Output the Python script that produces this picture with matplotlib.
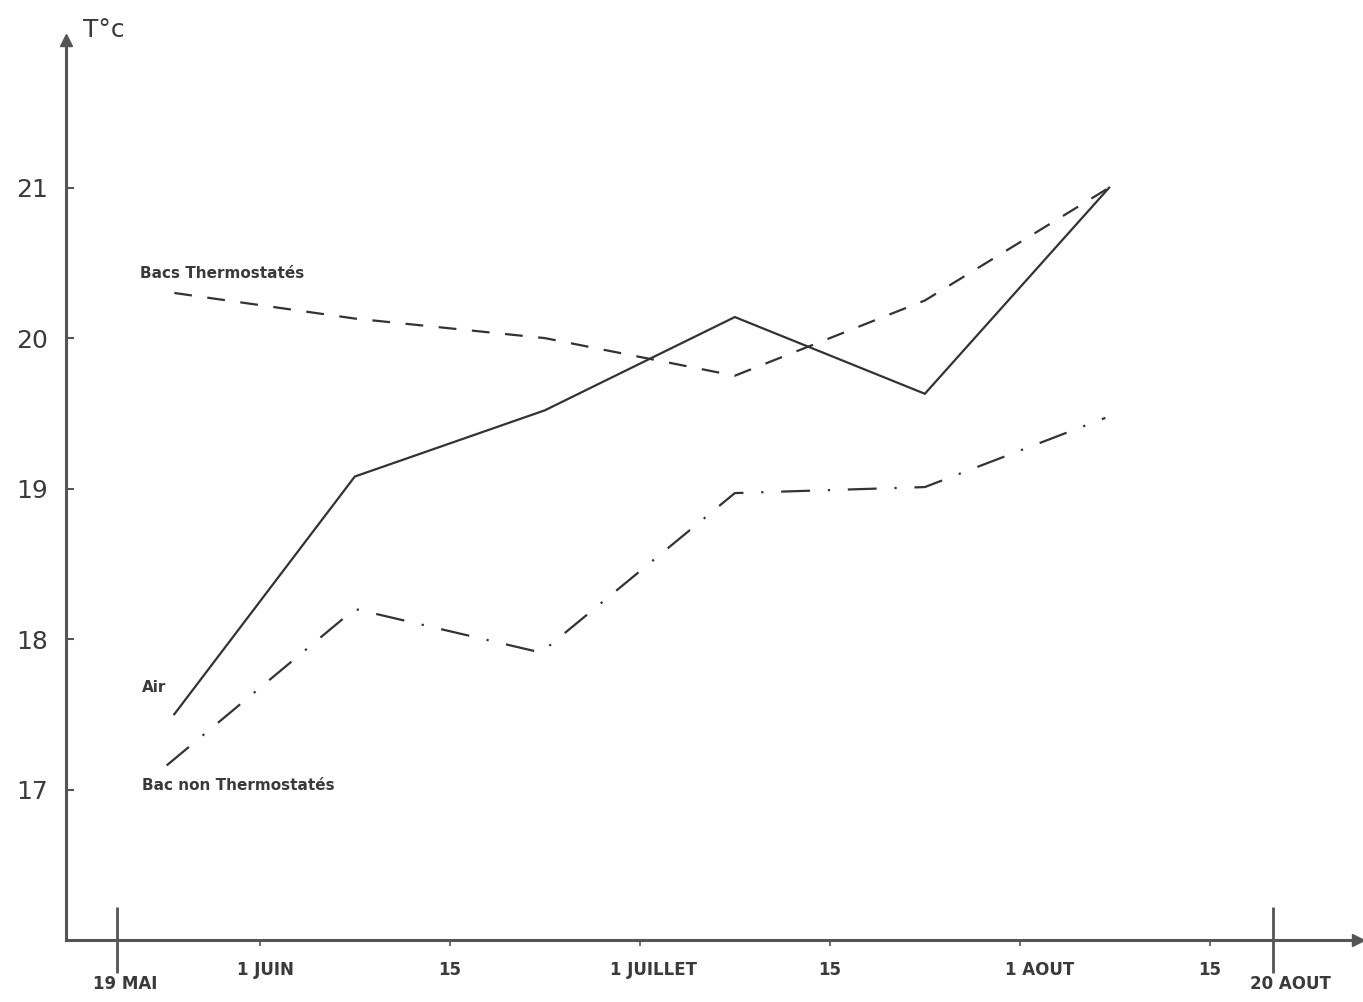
import matplotlib.pyplot as plt
from matplotlib.transforms import ScaledTranslation

plt.rcParams["font.family"] = "DejaVu Sans"

# x in half-month units counted from 1 June (1 unit = one "quinzaine")
tick_pos = [0, 1, 2, 3, 4, 5]
tick_labels = ["1 JUIN", "15", "1 JUILLET", "15", "1 AOUT", "15"]
bound_pos = [-0.75, 5.33]
bound_labels = ["19 MAI", "20 AOUT"]

y_ticks = [17, 18, 19, 20, 21]

# measurements
x_meas = [-0.45, 0.5, 1.5, 2.5, 3.5, 4.47]
air = [17.5, 19.08, 19.52, 20.14, 19.63, 21.0]
bacs_thermo = [20.3, 20.13, 20.0, 19.75, 20.25, 21.0]
x_non = [-0.49, 0.5, 1.48, 2.5, 3.5, 4.45]
bac_non_thermo = [17.16, 18.2, 17.91, 18.97, 19.01, 19.47]

ink = "#333333"
axis_col = "#555555"

fig = plt.figure(figsize=(13.63, 10.02), dpi=100)
ax = fig.add_axes([0.0484, 0.0619, 0.948, 0.898])

ax.plot(x_meas, air, color=ink, lw=1.6, solid_joinstyle="miter")
ax.plot(x_meas, bacs_thermo, color=ink, lw=1.6, linestyle=(0, (8, 7)))
ax.plot(x_non, bac_non_thermo, color=ink, lw=1.6, linestyle=(0, (13, 8, 1, 8)))

ax.set_xlim(-1.02, 5.78)
ax.set_ylim(16, 21.98)

for s in ["top", "right"]:
    ax.spines[s].set_visible(False)
for s in ["left", "bottom"]:
    ax.spines[s].set_color(axis_col)
    ax.spines[s].set_linewidth(2.2)

# arrow heads at the axis ends
ax.plot(1, 0, ">", color=axis_col, ms=8, transform=ax.transAxes, clip_on=False)
ax.plot(0, 1, "^", color=axis_col, ms=8, transform=ax.transAxes, clip_on=False)

ax.set_yticks(y_ticks)
ax.set_yticklabels([str(v) for v in y_ticks])
ax.tick_params(axis="y", direction="in", length=6, width=1.5, color=axis_col,
               labelsize=18, labelcolor="#3a3a3a", pad=13)

ax.set_xticks(tick_pos)
ax.set_xticklabels(tick_labels)
ax.set_xticks(bound_pos, minor=True)
ax.set_xticklabels(bound_labels, minor=True)
ax.tick_params(axis="x", which="major", direction="out", length=4, width=1.2,
               color=axis_col, labelsize=12, labelcolor="#3a3a3a", pad=11)
ax.tick_params(axis="x", which="minor", direction="inout", length=47, width=2,
               color=axis_col, labelsize=12, labelcolor="#3a3a3a", pad=2)

# hand-lettered labels sit a little right of their ticks
shift_major = [6, 0, 14, 0, 20, 0]
shift_minor = [8, 18]
for lab, dx in zip(ax.get_xticklabels(), shift_major):
    lab.set_fontweight("bold")
    lab.set_transform(lab.get_transform() + ScaledTranslation(dx / 100, 0, fig.dpi_scale_trans))
for lab, dx in zip(ax.get_xticklabels(minor=True), shift_minor):
    lab.set_fontweight("bold")
    lab.set_transform(lab.get_transform() + ScaledTranslation(dx / 100, 0, fig.dpi_scale_trans))

# labels
ax.text(-0.93, 22.0, "T°c", fontsize=18, color="#3a3a3a", va="baseline",
        clip_on=False)
ax.text(-0.63, 20.4, "Bacs Thermostatés", fontsize=11, fontweight="bold",
        color="#3a3a3a", va="baseline")
ax.text(-0.62, 17.65, "Air", fontsize=11, fontweight="bold",
        color="#3a3a3a", va="baseline")
ax.text(-0.62, 17.0, "Bac non Thermostatés", fontsize=11, fontweight="bold",
        color="#3a3a3a", va="baseline")

fig.savefig("out.png", dpi=100)
